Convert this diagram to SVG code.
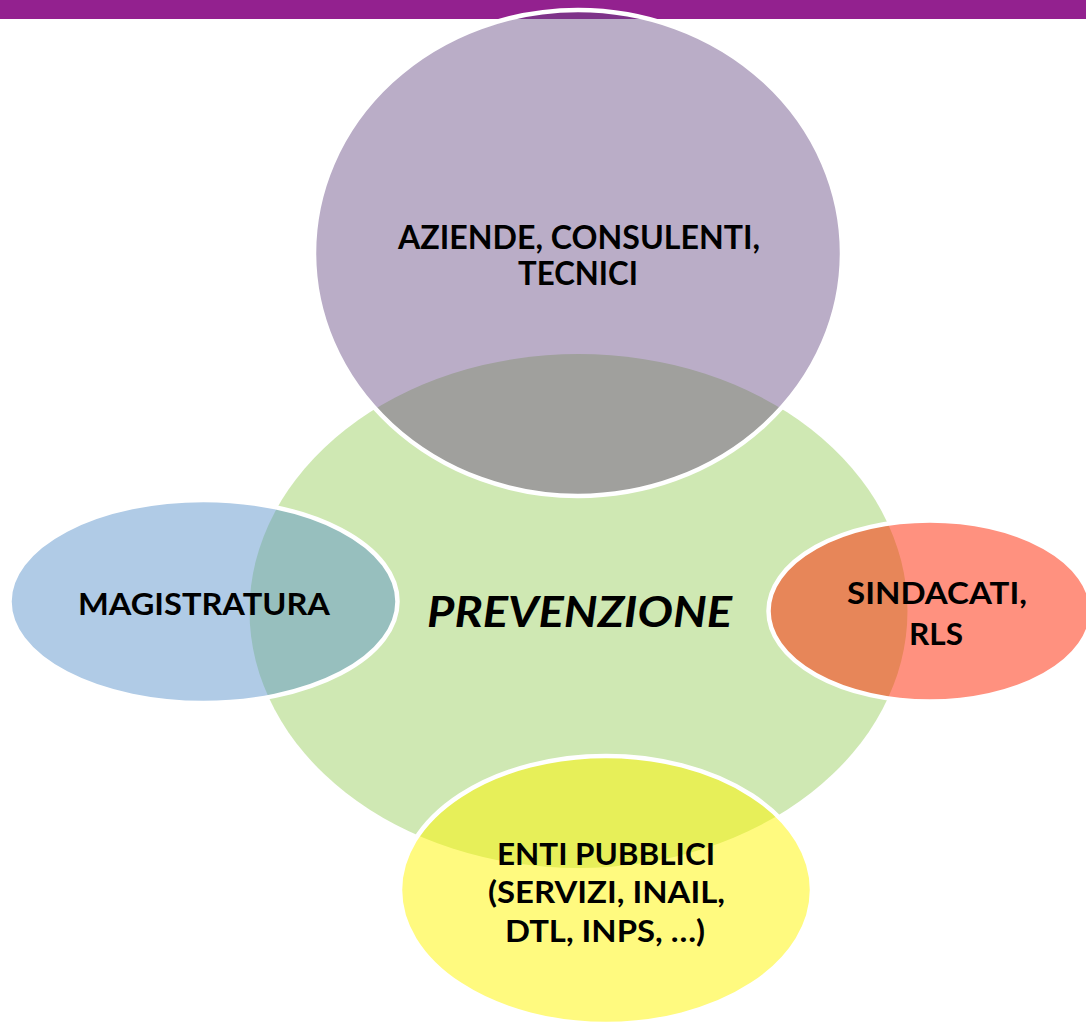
<svg xmlns="http://www.w3.org/2000/svg" width="1086" height="1022" viewBox="0 0 1086 1022">
<style>
.lbl{font-family:Lato,"Liberation Sans",sans-serif;font-weight:bold;fill:#000;text-anchor:middle}
.ring{stroke:#fff;stroke-width:4.5}
</style>
<rect x="0" y="0" width="1086" height="1022" fill="#fff"/>
<rect id="topbar" x="0" y="0" width="1086" height="19" fill="#93218f"/>
<g id="connectors"/>
<g id="prevenzione">
<ellipse cx="578.5" cy="611" rx="329" ry="257" fill="#cfe8b3"/>
<text class="lbl" x="579.5" y="627" font-size="42" font-style="italic" textLength="305" lengthAdjust="spacingAndGlyphs">PREVENZIONE</text>
</g>
<g id="aziende">
<ellipse class="ring" cx="578" cy="253" rx="264" ry="243" fill="rgb(101,73,131)" fill-opacity="0.45"/>
<text class="lbl" x="579" y="249" font-size="32" textLength="362" lengthAdjust="spacingAndGlyphs">AZIENDE, CONSULENTI,</text>
<text class="lbl" x="578" y="285" font-size="32" textLength="120" lengthAdjust="spacingAndGlyphs">TECNICI</text>
</g>
<g id="magistratura">
<ellipse class="ring" cx="203.5" cy="601.5" rx="194" ry="101.5" fill="rgb(90,146,202)" fill-opacity="0.48"/>
<text class="lbl" x="204" y="615" font-size="31" textLength="252" lengthAdjust="spacingAndGlyphs">MAGISTRATURA</text>
</g>
<g id="sindacati">
<ellipse class="ring" cx="930" cy="611" rx="161.5" ry="90.5" fill="rgb(255,36,0)" fill-opacity="0.5"/>
<text class="lbl" x="937" y="604" font-size="31" textLength="180" lengthAdjust="spacingAndGlyphs">SINDACATI,</text>
<text class="lbl" x="936" y="645" font-size="31" textLength="54" lengthAdjust="spacingAndGlyphs">RLS</text>
</g>
<g id="enti">
<ellipse class="ring" cx="606" cy="890" rx="206" ry="134" fill="rgb(255,245,0)" fill-opacity="0.5"/>
<text class="lbl" x="606" y="865" font-size="30" textLength="218" lengthAdjust="spacingAndGlyphs">ENTI PUBBLICI</text>
<text class="lbl" x="606.5" y="903" font-size="30" textLength="237" lengthAdjust="spacingAndGlyphs">(SERVIZI, INAIL,</text>
<text class="lbl" x="605" y="942" font-size="30" textLength="200" lengthAdjust="spacingAndGlyphs">DTL, INPS, …)</text>
</g>
</svg>
